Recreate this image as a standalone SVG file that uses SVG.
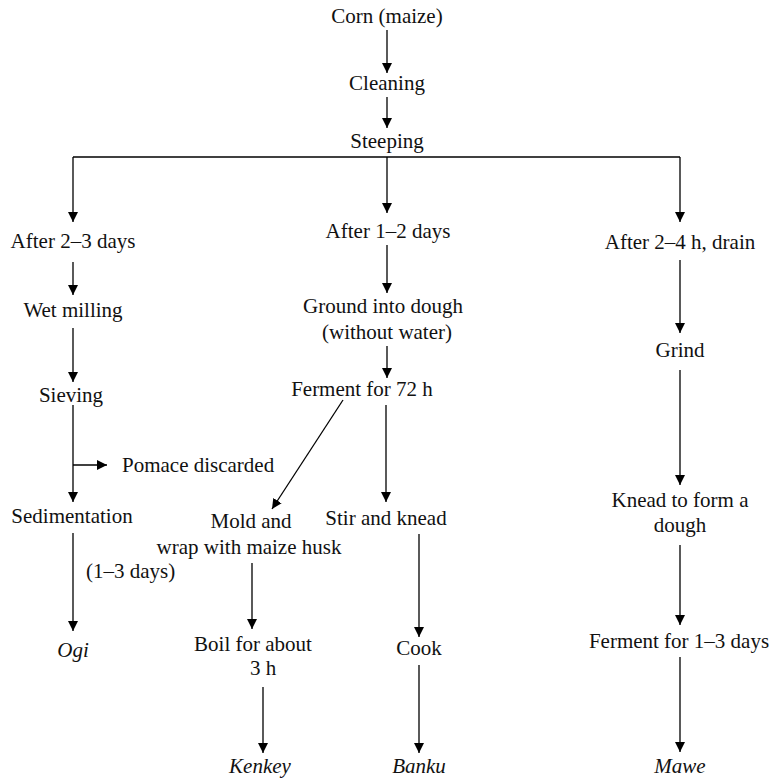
<svg xmlns="http://www.w3.org/2000/svg" width="777" height="781" viewBox="0 0 777 781">
  <defs>
    <marker id="arrow" markerUnits="userSpaceOnUse" markerWidth="11" markerHeight="11" refX="10" refY="5" orient="auto">
      <path d="M0,0 L10,5 L0,10 z" fill="#000"/>
    </marker>
    <style>
      .conn line, .conn path { stroke: #000; stroke-width: 1.3; fill: none; }
      .conn .arr { marker-end: url(#arrow); }
    </style>
  </defs>
  <rect width="777" height="781" fill="#fff"/>

  <!-- connectors -->
  <g id="connectors" class="conn">
    <line class="arr" x1="387" y1="30" x2="387" y2="73"/>
    <line class="arr" x1="387" y1="97" x2="387" y2="128"/>
    <path d="M73,157 H680"/>
    <line class="arr" x1="73" y1="157" x2="73" y2="222"/>
    <line class="arr" x1="387" y1="157" x2="387" y2="213"/>
    <line class="arr" x1="680" y1="157" x2="680" y2="222"/>

    <!-- left branch: Ogi -->
    <line class="arr" x1="73" y1="262" x2="73" y2="295"/>
    <line class="arr" x1="73" y1="328" x2="73" y2="382"/>
    <line class="arr" x1="73" y1="405" x2="73" y2="502"/>
    <line class="arr" x1="73" y1="465" x2="107" y2="465"/>
    <line class="arr" x1="73" y1="533" x2="73" y2="631"/>

    <!-- middle branch: Kenkey and Banku -->
    <line class="arr" x1="387" y1="245" x2="387" y2="293"/>
    <line class="arr" x1="387" y1="346" x2="387" y2="378"/>
    <line class="arr" x1="343" y1="400" x2="272" y2="509"/>
    <line class="arr" x1="386" y1="405" x2="386" y2="502"/>
    <line class="arr" x1="252" y1="563" x2="252" y2="629"/>
    <line class="arr" x1="263" y1="687" x2="263" y2="753"/>
    <line class="arr" x1="419" y1="534" x2="419" y2="637"/>
    <line class="arr" x1="419" y1="665" x2="419" y2="753"/>

    <!-- right branch: Mawe -->
    <line class="arr" x1="680" y1="260" x2="680" y2="333"/>
    <line class="arr" x1="680" y1="370" x2="680" y2="485"/>
    <line class="arr" x1="680" y1="545" x2="680" y2="625"/>
    <line class="arr" x1="680" y1="657" x2="680" y2="752"/>
  </g>

  <g id="labels" font-family="Liberation Serif, serif" font-size="21" fill="#111" text-anchor="middle">
    <!-- common trunk -->
    <g id="corn"><text x="387" y="23">Corn (maize)</text></g>
    <g id="cleaning"><text x="387" y="90">Cleaning</text></g>
    <g id="steeping"><text x="387" y="148">Steeping</text></g>

    <!-- Ogi -->
    <g id="after-2-3-days"><text x="73" y="248">After 2–3 days</text></g>
    <g id="wet-milling"><text x="73" y="317">Wet milling</text></g>
    <g id="sieving"><text x="71" y="402">Sieving</text></g>
    <g id="pomace"><text text-anchor="start" x="122" y="472">Pomace discarded</text></g>
    <g id="sedimentation"><text x="72" y="523">Sedimentation</text></g>
    <g id="sedimentation-time"><text text-anchor="start" x="86" y="578">(1–3 days)</text></g>
    <g id="ogi"><text font-style="italic" x="73" y="657">Ogi</text></g>

    <!-- Kenkey and Banku -->
    <g id="after-1-2-days"><text x="388" y="238">After 1–2 days</text></g>
    <g id="ground"><text x="383" y="313">Ground into dough</text><text x="387" y="339">(without water)</text></g>
    <g id="ferment-72"><text x="362" y="396">Ferment for 72 h</text></g>
    <g id="mold-wrap"><text x="251" y="528">Mold and</text><text x="249" y="554">wrap with maize husk</text></g>
    <g id="boil"><text x="253" y="651">Boil for about</text><text x="263" y="675">3 h</text></g>
    <g id="kenkey"><text font-style="italic" x="260" y="773">Kenkey</text></g>
    <g id="stir-knead"><text x="386" y="525">Stir and knead</text></g>
    <g id="cook"><text x="419" y="655">Cook</text></g>
    <g id="banku"><text font-style="italic" x="419" y="773">Banku</text></g>

    <!-- Mawe -->
    <g id="after-2-4-h"><text x="680" y="249">After 2–4 h, drain</text></g>
    <g id="grind"><text x="680" y="357">Grind</text></g>
    <g id="knead-dough"><text x="680" y="507">Knead to form a</text><text x="680" y="532">dough</text></g>
    <g id="ferment-1-3"><text x="679" y="648">Ferment for 1–3 days</text></g>
    <g id="mawe"><text font-style="italic" x="680" y="773">Mawe</text></g>
  </g>
</svg>
